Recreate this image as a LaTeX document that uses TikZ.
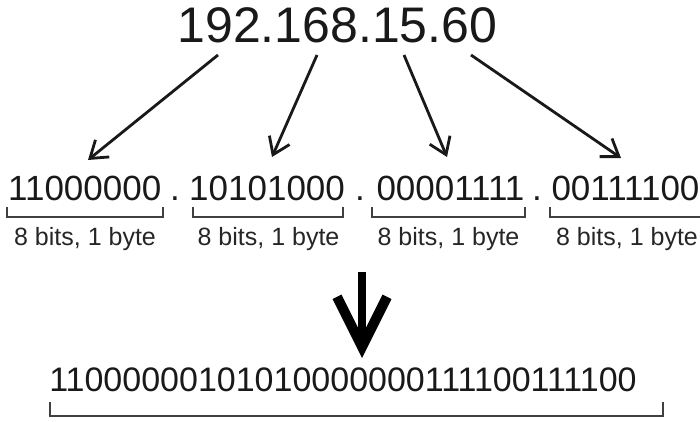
\documentclass[tikz,border=0pt]{standalone}
\usepackage{fontspec}
\setmainfont{Liberation Sans}
\usetikzlibrary{arrows.meta}
\begin{document}
\begin{tikzpicture}[x=1pt,y=-1pt,
  txt/.style={inner sep=0pt, outer sep=0pt, text=black!90},
  ipnum/.style={txt, font=\fontsize{50}{50}\selectfont},
  bits/.style={txt, font=\fontsize{35}{35}\selectfont},
  allbits/.style={txt, font=\fontsize{34}{34}\selectfont},
  lbl/.style={txt, font=\fontsize{25}{25}\selectfont, text=black!85},
  thinarrow/.style={line width=2.8pt, draw=black!90, -{Straight Barb[length=16pt,width=22pt]}},
  bigarrow/.style={line width=8pt, draw=black, -{Straight Barb[length=50pt,width=50pt,line width=10pt]}},
  brk/.style={line width=2pt, draw=black!75},
]
\fill[white] (0,0) rectangle (700,422);
\useasboundingbox (0,0) rectangle (700,422);

% top address
\node[ipnum, anchor=base west] (ip) at (177.5,43) {192.168.15.60};

% octets
\node[bits, anchor=base west] (g1) at (8.2,200) {11000000};
\node[bits, anchor=base] (d1) at (175,200) {.};
\node[bits, anchor=base west] (g2) at (189.2,200) {10101000};
\node[bits, anchor=base] (d2) at (360,200) {.};
\node[bits, anchor=base west] (g3) at (376.5,200) {00001111};
\node[bits, anchor=base] (d3) at (537,200) {.};
\node[bits, anchor=base west] (g4) at (551.5,200) {00111100};

% arrow end points
\coordinate (s1) at (218,55);
\coordinate (s2) at (317,55);
\coordinate (s3) at (404,55);
\coordinate (s4) at (471,55);
\coordinate (t1) at (88,160);
\coordinate (t2) at (272,157);
\coordinate (t3) at (447,157);
\coordinate (t4) at (621,158);
\draw[thinarrow] (s1) -- (t1);
\draw[thinarrow] (s2) -- (t2);
\draw[thinarrow] (s3) -- (t3);
\draw[thinarrow] (s4) -- (t4);

% brackets
\draw[brk] (7,207) -- (7,217) -- (163,217) -- (163,207);
\draw[brk] (193,207) -- (193,217) -- (343,217) -- (343,207);
\draw[brk] (372,207) -- (372,217) -- (525,217) -- (525,207);
\draw[brk] (550,207) -- (550,217) -- (712,217) -- (712,207);

% labels
\node[lbl, anchor=base] (l1) at (85,245) {8 bits, 1 byte};
\node[lbl, anchor=base] (l2) at (268.5,245) {8 bits, 1 byte};
\node[lbl, anchor=base] (l3) at (448.5,245) {8 bits, 1 byte};
\node[lbl, anchor=base] (l4) at (627,245) {8 bits, 1 byte};

% big arrow
\coordinate (bt) at (362,272);
\coordinate (bh) at (362,358);
\draw[bigarrow] (bt) -- (bh);

% combined
\node[allbits, anchor=base west] (all) at (49.3,391) {11000000101010000000111100111100};
\draw[brk] (50,402) -- (50,416) -- (663,416) -- (663,402);
\end{tikzpicture}
\end{document}
